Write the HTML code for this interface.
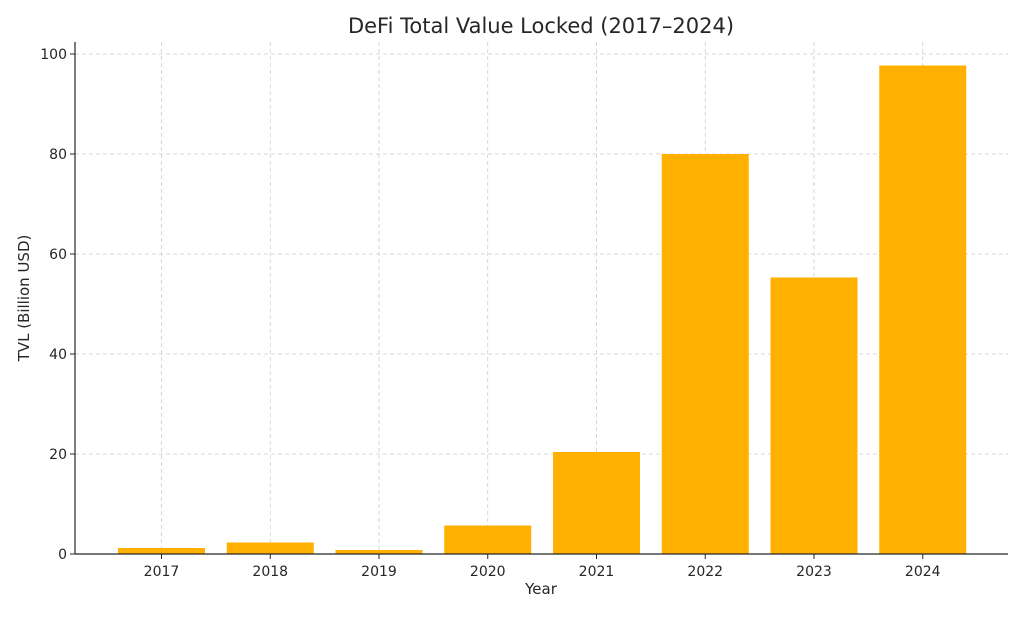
<!DOCTYPE html>
<html><head><meta charset="utf-8"><style>
body{margin:0;background:#fff;font-family:"DejaVu Sans","Liberation Sans",sans-serif;}
svg text{font-family:"DejaVu Sans","Liberation Sans",sans-serif;fill:#262626;}
</style></head><body>
<svg id="chart" width="1024" height="614" xmlns="http://www.w3.org/2000/svg">
<g id="grid"></g>
<g id="bars"></g>
<g id="axes"></g>
<text x="541" y="33" text-anchor="middle" font-size="21">DeFi Total Value Locked (2017–2024)</text>
<text x="541" y="594" text-anchor="middle" font-size="15">Year</text>
<text transform="translate(29,298) rotate(-90)" text-anchor="middle" font-size="15">TVL (Billion USD)</text>
</svg>
<script>
const categories = ["2017","2018","2019","2020","2021","2022","2023","2024"];
const values = [1.2, 2.3, 0.8, 5.7, 20.4, 80.0, 55.3, 97.7];
const yTicks = [0, 20, 40, 60, 80, 100];
const NS = "http://www.w3.org/2000/svg";
const plotLeft = 75, plotRight = 1008, plotTop = 42, plotBottom = 554;
const x0 = 161.5, step = 108.75, bw = 87;
const xPos = i => x0 + i * step;
const yPos = v => plotBottom - v * 5;
function mk(tag, attrs, parent) {
  const e = document.createElementNS(NS, tag);
  for (const k in attrs) e.setAttribute(k, attrs[k]);
  parent.appendChild(e); return e;
}
const grid = document.getElementById("grid"), bars = document.getElementById("bars"), axes = document.getElementById("axes");
yTicks.forEach(t => {
  const y = yPos(t);
  const g = mk("line", {x1: plotLeft, x2: plotRight, y1: y, y2: y, stroke: "#cccccc", "stroke-dasharray": "4,3", "stroke-width": 0.8}, grid);
  
  
  const tk = mk("line", {x1: plotLeft - 5, x2: plotLeft, y1: y, y2: y, stroke: "#262626"}, axes);
  
  
  const tx = mk("text", {x: plotLeft - 8, y: y + 5, "text-anchor": "end", "font-size": 14}, axes);
  tx.textContent = t;
  
  
});
categories.forEach((c, i) => {
  const x = xPos(i);
  const g = mk("line", {x1: x, x2: x, y1: plotTop, y2: plotBottom, stroke: "#cccccc", "stroke-dasharray": "4,3", "stroke-width": 0.8}, grid);
  
  
  const b = mk("rect", {x: x - bw / 2, y: yPos(values[i]), width: bw, height: plotBottom - yPos(values[i]), fill: "#ffb000"}, bars);
  
  
  const tk = mk("line", {x1: x, x2: x, y1: plotBottom, y2: plotBottom + 5, stroke: "#262626"}, axes);
  
  
  const tx = mk("text", {x: x, y: plotBottom + 22, "text-anchor": "middle", "font-size": 14}, axes);
  tx.textContent = c;
  
  
});
const ya = mk("line", {x1: plotLeft, x2: plotLeft, y1: plotTop, y2: plotBottom, stroke: "#262626", "stroke-width": 1.2}, axes);


const xa = mk("line", {x1: plotLeft, x2: plotRight, y1: plotBottom, y2: plotBottom, stroke: "#262626", "stroke-width": 1.2}, axes);


</script>
</body></html>
